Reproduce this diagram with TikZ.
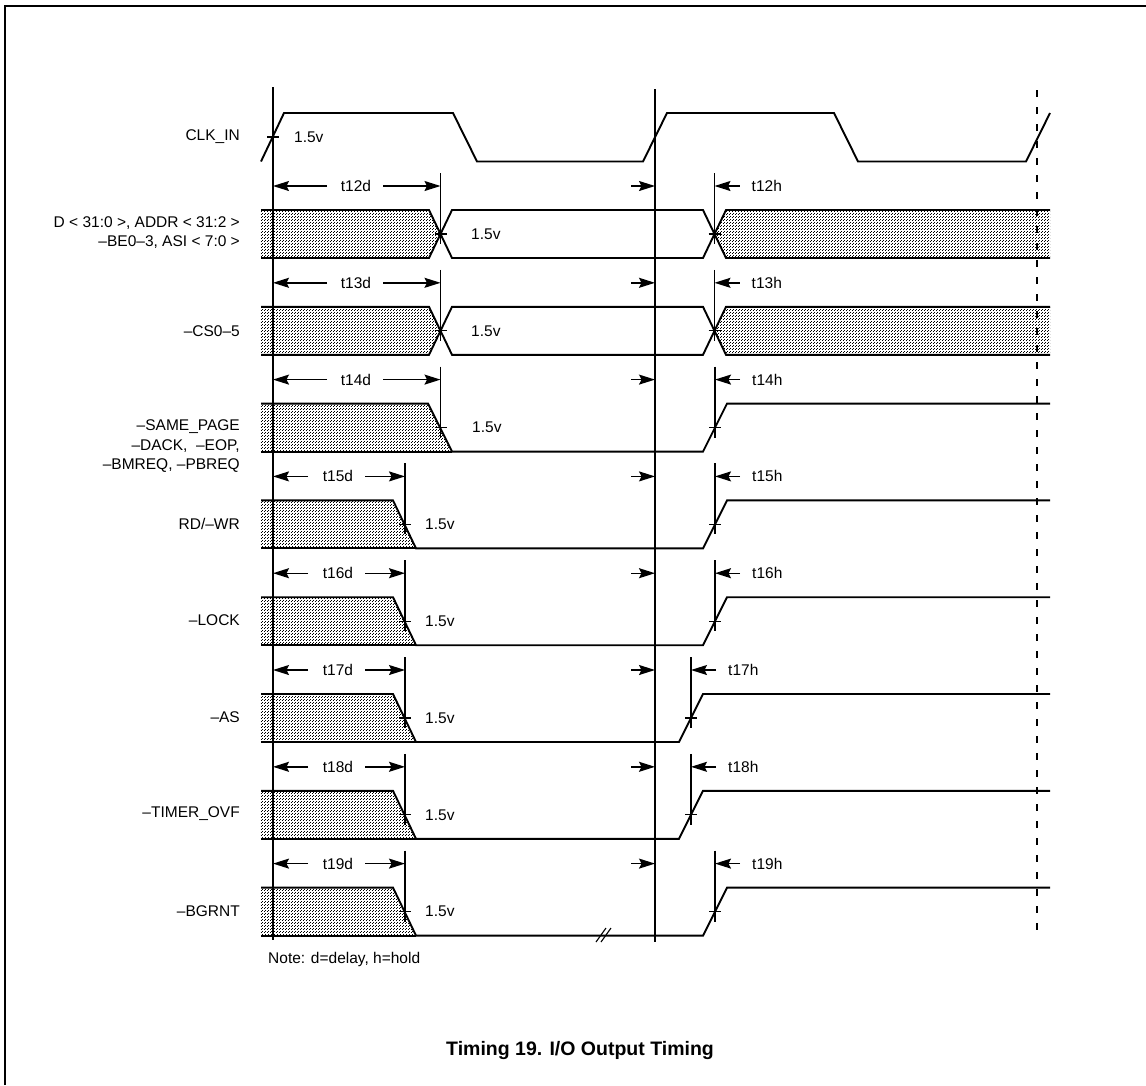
\documentclass[tikz,border=0pt]{standalone}
\usepackage{fontspec}
\setmainfont{Liberation Sans}
\usetikzlibrary{arrows.meta,patterns}
\pgfdeclarepatternformonly{stipple}{\pgfqpoint{0pt}{0pt}}{\pgfqpoint{3pt}{3pt}}{\pgfqpoint{3pt}{3pt}}{%
  \pgfpathrectangle{\pgfqpoint{0pt}{0pt}}{\pgfqpoint{1.05pt}{1.05pt}}%
  \pgfpathrectangle{\pgfqpoint{1.5pt}{1.5pt}}{\pgfqpoint{1.05pt}{1.05pt}}%
  \pgfusepath{fill}}
\begin{document}
\begin{tikzpicture}[x=1pt,y=-1pt,
  sig/.style={line width=1.9pt, line join=miter},
  shadearea/.style={pattern=stipple, pattern color=black},
  refline/.style={line width=1.5pt},
  tline/.style={line width=1.1pt},
  dim/.style={line width=1.4pt, -{Stealth[length=16pt,width=10pt,inset=2.5pt]}},
  lbl/.style={font=\fontsize{15.5}{19.5}\selectfont, inner sep=0pt},
  siglbl/.style={lbl, anchor=east, align=right},
  frameline/.style={line width=2pt}]
\useasboundingbox (0,0) rectangle (1146,1085);
% frame
\coordinate (fl) at (5,1085);
\coordinate (fc) at (5,5.5);
\coordinate (fr) at (1146,5.5);
\draw[frameline] (fl) -- (fc) -- (fr);

% reference lines
\coordinate (r1t) at (273,87);   \coordinate (r1b) at (273,940);
\coordinate (r2t) at (655,89);   \coordinate (r2b) at (655,942);
\coordinate (r3t) at (1037,90);  \coordinate (r3b) at (1037,932);
\draw[refline] (r1t) -- (r1b);
\draw[tline] (r2t) -- (r2b);
\draw[tline, dash pattern=on 7pt off 10pt] (r3t) -- (r3b);

% clock
\draw[sig] (261,161.5) -- (284,113) -- (453,113) -- (477,161.5) -- (643,161.5) -- (667,113)
  -- (834,113) -- (858,161.5) -- (1026,161.5) -- (1050,113);
\draw[tline] (267,137) -- (279,137);
\node[lbl, anchor=west] (clkv) at (294,137) {1.5v};
\node[siglbl] (clk) at (240,137) {CLK\_IN};

% signal labels
\node[siglbl] (lab0) at (240,232.5) {D < 31:0 >, ADDR < 31:2 >\\–BE0–3, ASI < 7:0 >};
\node[siglbl] (lab1) at (240,331.5) {–CS0–5};
\node[siglbl] (lab2) at (240,446.5) {–SAME\_PAGE\\–DACK,\ \ –EOP,\\–BMREQ, –PBREQ};
\node[siglbl] (lab3) at (240,524) {RD/–WR};
\node[siglbl] (lab4) at (240,620.5) {–LOCK};
\node[siglbl] (lab5) at (240,717) {–AS};
\node[siglbl] (lab6) at (240,814) {–TIMER\_OVF};
\node[siglbl] (lab7) at (240,911) {–BGRNT};

% bus rows
\foreach \i in {0,1}{
  \pgfmathsetmacro\A{186+96.8*\i}
  \pgfmathsetmacro\T{\A+24}
  \pgfmathsetmacro\B{\A+72}
  \pgfmathsetmacro\M{\A+48}
  \fill[shadearea] (261,\T) -- (429,\T) -- (440.5,\M) -- (429,\B) -- (261,\B) -- cycle;
  \fill[shadearea] (1050,\T) -- (726,\T) -- (714.5,\M) -- (726,\B) -- (1050,\B) -- cycle;
  \draw[sig] (261,\T) -- (429,\T) -- (452,\B) -- (703,\B) -- (726,\T) -- (1050,\T);
  \draw[sig] (261,\B) -- (429,\B) -- (452,\T) -- (703,\T) -- (726,\B) -- (1050,\B);
  \node[lbl, anchor=west] (v\i) at (471,\M) {1.5v};
}

% falling / rising rows
\foreach \i/\fs/\fe/\rs/\re/\lx in {2/428/452/703/727/472, 3/393/416/703/727/425,
   4/393/416/703/727/425, 5/393/416/679/703/425, 6/393/416/679/703/425, 7/393/416/703/727/425}{
  \pgfmathsetmacro\A{186+96.8*\i}
  \pgfmathsetmacro\T{\A+24}
  \pgfmathsetmacro\B{\A+72}
  \pgfmathsetmacro\M{\A+48}
  \fill[shadearea] (261,\T) -- (\fs,\T) -- (\fe,\B) -- (261,\B) -- cycle;
  \draw[sig] (261,\T) -- (\fs,\T) -- (\fe,\B) -- (\rs,\B) -- (\re,\T) -- (1050,\T);
  \draw[sig] (261,\B) -- (\fe,\B);
  \node[lbl, anchor=west] (v\i) at (\lx,\M) {1.5v};
}

% break mark on -BGRNT
\draw[tline] (596,942) -- (606,928);
\draw[tline] (601,942) -- (611,928);

% timing arrows
\foreach \i/\n/\dx/\dl/\dc/\dr/\hx in {0/12/440.5/327/356/383/714.5, 1/13/440.5/327/356/383/714.5,
   2/14/440.5/327/356/383/715, 3/15/405/308/338/365/715, 4/16/405/308/338/365/715,
   5/17/405/308/338/365/691, 6/18/405/308/338/365/691, 7/19/405/308/338/365/715}{
  \pgfmathsetmacro\A{186+96.8*\i}
  \pgfmathsetmacro\M{\A+48}
  \coordinate (ds\n) at (273,\A);
  \coordinate (de\n) at (\dx,\A);
  \coordinate (cs\n) at (655,\A);
  \coordinate (hs\n) at (\hx,\A);
  \node[lbl] (td\n) at (\dc,\A) {t\n d};
  \node[lbl, anchor=west] (th\n) at (\hx+37,\A) {t\n h};
  \draw[dim] (\dl,\A) -- (ds\n);
  \draw[dim] (\dr,\A) -- (de\n);
  \draw[dim] (631,\A) -- (cs\n);
  \draw[dim] (\hx+25,\A) -- (hs\n);
  \draw[tline] (\dx,\A-13) -- (\dx,\M+10);
  \draw[tline] (\hx,\A-13) -- (\hx,\M+10);
  \draw[tline] (\dx-6,\M) -- (\dx+6,\M);
  \draw[tline] (\hx-6,\M) -- (\hx+6,\M);
}

\node[lbl, anchor=west] (note) at (268,959) {Note: d=delay, h=hold};
\node[font=\fontsize{19.5}{22}\selectfont\bfseries, inner sep=0pt] (cap) at (580,1050) {Timing 19. I/O Output Timing};
\end{tikzpicture}
\end{document}
